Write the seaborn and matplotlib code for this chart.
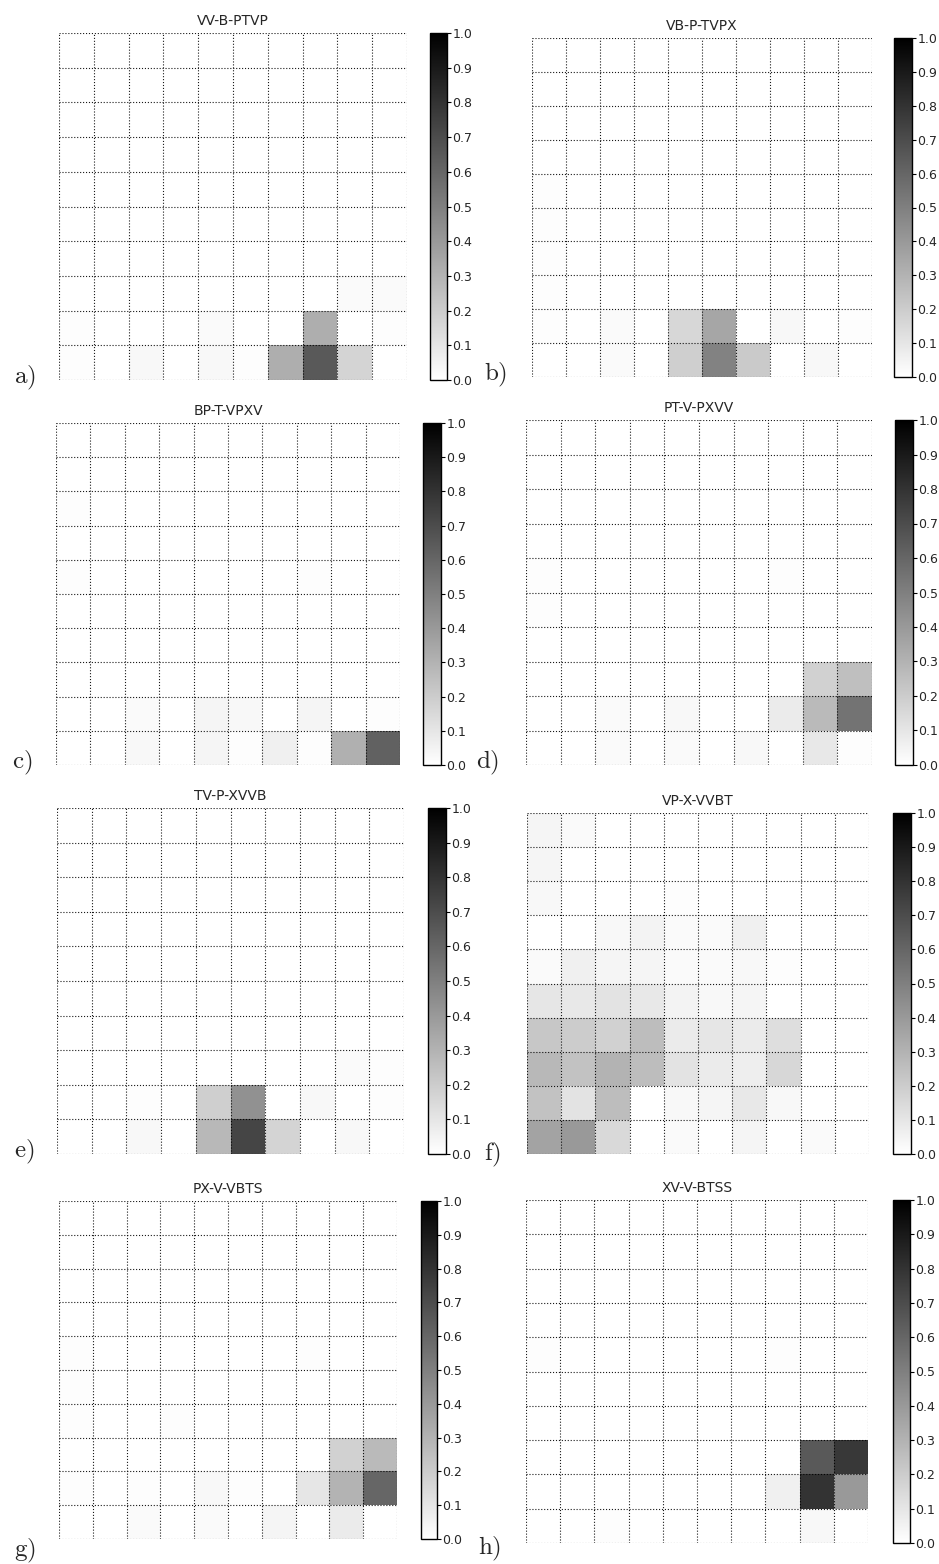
import numpy as np
import matplotlib
matplotlib.use("Agg")
import matplotlib.pyplot as plt
import seaborn as sns

sns.set_style("white")
plt.rcParams["font.family"] = ["DejaVu Sans"]
plt.rcParams["mathtext.fontset"] = "cm"

titles = ["VV-B-PTVP", "VB-P-TVPX", "BP-T-VPXV", "PT-V-PXVV",
          "TV-P-XVVB", "VP-X-VVBT", "PX-V-VBTS", "XV-V-BTSS"]
panel_tags = ["a", "b", "c", "d", "e", "f", "g", "h"]
cbar_ticks = [0.0, 0.1, 0.2, 0.3, 0.4, 0.5, 0.6, 0.7, 0.8, 0.9, 1.0]

z = [0.0] * 10

grid_a = [z, z, z, z, z, z, z,
          [0, 0, 0, 0, 0, 0, 0, 0, 0.02, 0.02],
          [0.01, 0, 0, 0, 0.02, 0, 0, 0.32, 0, 0.01],
          [0.01, 0, 0.03, 0, 0.03, 0.01, 0.32, 0.65, 0.17, 0]]

grid_b = [z, z, z, z,
          [0.01, 0, 0, 0, 0, 0, 0, 0, 0, 0],
          [0.01, 0, 0, 0, 0, 0, 0, 0, 0, 0],
          [0.01, 0, 0, 0, 0, 0, 0, 0, 0, 0],
          [0.01, 0, 0, 0, 0, 0, 0, 0, 0, 0],
          [0.01, 0, 0.02, 0, 0.16, 0.35, 0, 0.03, 0, 0.01],
          [0, 0, 0.02, 0, 0.19, 0.49, 0.21, 0, 0.03, 0]]

grid_c = [z, z,
          [0.01, 0, 0, 0, 0, 0, 0, 0, 0, 0],
          z,
          [0.01, 0, 0, 0, 0, 0, 0, 0.01, 0, 0],
          z, z, z,
          [0, 0, 0.02, 0, 0.04, 0.03, 0, 0.04, 0, 0.01],
          [0, 0, 0.03, 0, 0.04, 0.01, 0.06, 0.01, 0.31, 0.62]]

grid_d = [z, z, z, z,
          [0.01, 0, 0, 0, 0, 0, 0, 0.01, 0, 0],
          [0.01, 0, 0, 0, 0, 0, 0, 0, 0, 0],
          z,
          [0, 0, 0, 0, 0, 0, 0, 0, 0.18, 0.25],
          [0, 0, 0.02, 0, 0.03, 0, 0, 0.08, 0.27, 0.55],
          [0, 0, 0.02, 0, 0.02, 0, 0.03, 0, 0.09, 0.01]]

grid_e = [z, z, z, z, z, z, z,
          [0, 0, 0, 0, 0, 0, 0, 0, 0.02, 0.01],
          [0, 0, 0.01, 0, 0.19, 0.43, 0, 0.03, 0, 0.01],
          [0, 0, 0.03, 0, 0.28, 0.73, 0.17, 0, 0.03, 0]]

grid_f = [[0.04, 0.02, 0, 0, 0, 0, 0, 0, 0, 0],
          [0.04, 0, 0, 0, 0, 0, 0, 0, 0, 0],
          [0.03, 0, 0, 0, 0.01, 0, 0, 0, 0, 0],
          [0, 0, 0.03, 0.05, 0.02, 0.02, 0.06, 0, 0, 0],
          [0.02, 0.06, 0.04, 0.04, 0.02, 0.02, 0.03, 0.01, 0, 0],
          [0.10, 0.09, 0.11, 0.09, 0.05, 0.03, 0.04, 0, 0, 0],
          [0.22, 0.20, 0.18, 0.26, 0.08, 0.10, 0.08, 0.13, 0, 0],
          [0.28, 0.24, 0.30, 0.26, 0.11, 0.08, 0.07, 0.16, 0, 0],
          [0.24, 0.11, 0.26, 0, 0.03, 0.04, 0.09, 0.03, 0, 0],
          [0.36, 0.40, 0.15, 0, 0.02, 0, 0.04, 0, 0.02, 0]]

grid_g = [z, z, z, z,
          [0.01, 0, 0, 0, 0, 0, 0, 0.01, 0, 0],
          [0.01, 0, 0, 0, 0, 0, 0, 0, 0, 0],
          [0.01, 0, 0, 0.01, 0, 0, 0, 0, 0, 0],
          [0, 0, 0, 0, 0, 0, 0, 0, 0.18, 0.27],
          [0.01, 0, 0.01, 0, 0.03, 0.01, 0, 0.10, 0.30, 0.60],
          [0, 0, 0.02, 0, 0.02, 0, 0.04, 0, 0.08, 0]]

grid_h = [z, z, z, z,
          [0.01, 0, 0, 0, 0, 0, 0, 0.01, 0, 0],
          z, z,
          [0, 0, 0, 0, 0, 0, 0, 0, 0.65, 0.78],
          [0, 0, 0, 0, 0, 0, 0, 0.06, 0.80, 0.40],
          [0, 0, 0.01, 0, 0, 0, 0, 0, 0.03, 0]]

grids = [grid_a, grid_b, grid_c, grid_d, grid_e, grid_f, grid_g, grid_h]

W, H = 939, 1564
# pixel boxes (left, top, right, bottom) for each heatmap and its colorbar
heat_boxes = [(59, 33, 407, 380), (532, 38, 872, 377),
              (56, 423, 400, 765), (526, 420, 872, 765),
              (57, 808, 404, 1154), (527, 813, 869, 1154),
              (59, 1201, 397, 1539), (526, 1200, 868, 1543)]
cbar_boxes = [(430, 33, 447, 380), (894, 38, 912, 377),
              (423, 423, 441, 765), (895, 420, 913, 765),
              (428, 808, 446, 1154), (893, 813, 911, 1154),
              (421, 1201, 437, 1539), (893, 1200, 910, 1543)]
tag_pos = [(14, 383), (484, 380), (12, 768), (476, 768),
           (14, 1157), (484, 1160), (14, 1556), (478, 1554)]


def frac(box):
    l, t, r, b = box
    return [l / W, 1 - b / H, (r - l) / W, (b - t) / H]


fig = plt.figure(figsize=(W / 100, H / 100), dpi=100)
fig.patch.set_facecolor("white")

for i, data in enumerate(grids):
    ax = fig.add_axes(frac(heat_boxes[i]))
    cax = fig.add_axes(frac(cbar_boxes[i]))
    sns.heatmap(np.array(data, dtype=float), ax=ax, cbar_ax=cax,
                cmap="gray_r", vmin=0, vmax=1, square=False,
                xticklabels=False, yticklabels=False)
    ax.set_xticks(np.arange(0, 11))
    ax.set_yticks(np.arange(0, 11))
    ax.tick_params(length=0, labelbottom=False, labelleft=False)
    ax.grid(True, color="black", linestyle=":", linewidth=0.8, alpha=0.9)
    ax.set_axisbelow(False)
    for s in ax.spines.values():
        s.set_visible(False)
    ax.set_title(titles[i], fontsize=10, pad=6)

    cax.set_yticks(cbar_ticks)
    cax.set_yticklabels([f"{t:.1f}" for t in cbar_ticks])
    cax.tick_params(axis="y", length=3, width=0.8, labelsize=9, pad=1,
                    direction="out", color="black")
    cb = ax.collections[0].colorbar
    cb.outline.set_visible(True)
    cb.outline.set_edgecolor("black")
    cb.outline.set_linewidth(1.0)

    tx, ty = tag_pos[i]
    fig.text(tx / W, 1 - ty / H, r"$\mathrm{" + panel_tags[i] + ")}$",
             fontsize=18, ha="left", va="baseline")

fig.savefig("out.png", dpi=100, facecolor="white")
